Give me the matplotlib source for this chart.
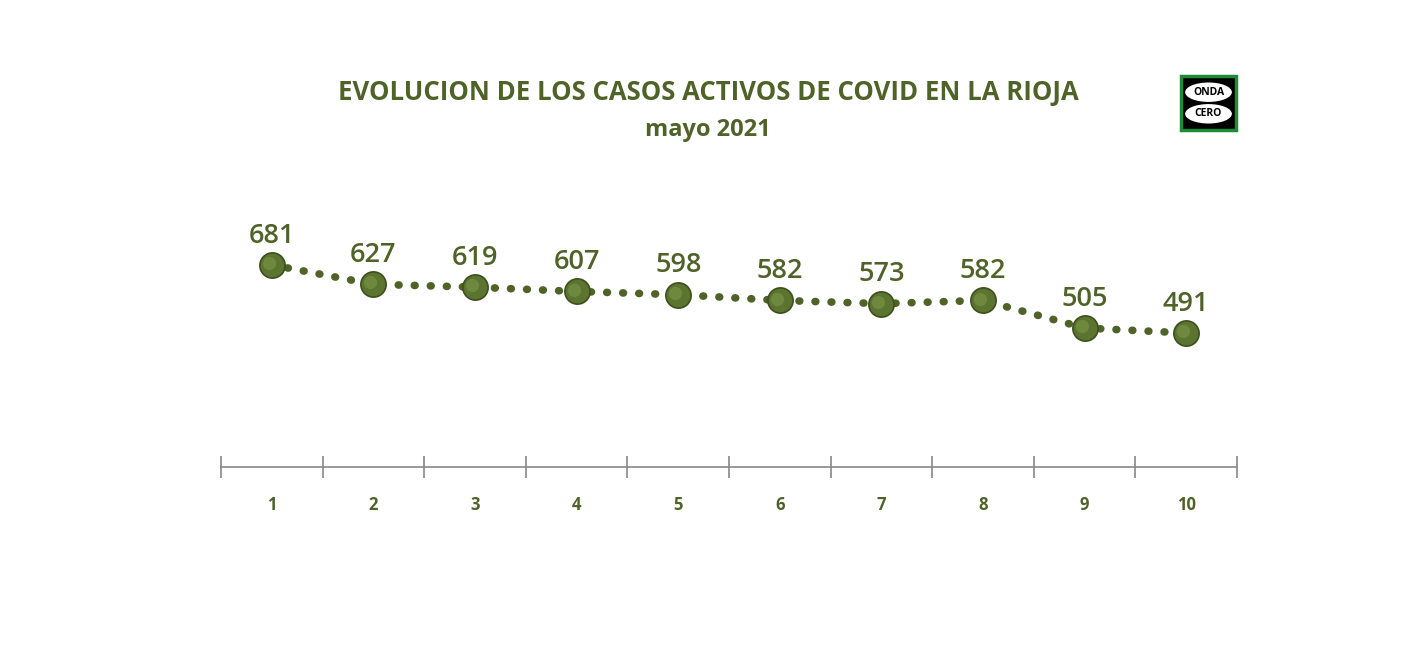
import matplotlib.pyplot as plt
from matplotlib.patches import Rectangle, Ellipse

days = [1, 2, 3, 4, 5, 6, 7, 8, 9, 10]
active_cases = [681, 627, 619, 607, 598, 582, 573, 582, 505, 491]
title = "EVOLUCION DE LOS CASOS ACTIVOS DE COVID EN LA RIOJA"
subtitle = "mayo 2021"

green = "#4F6228"
font = ["Open Sans", "DejaVu Sans"]

fig = plt.figure(figsize=(14.16, 6.72), dpi=100)
ax = fig.add_axes([221 / 1416, 1 - 467 / 672, 1016 / 1416, 297 / 672])

ax.plot(days, active_cases, linestyle=(0, (0.1, 2.0)), dash_capstyle="round",
        lw=5.5, color=green, zorder=2)
ax.scatter(days, active_cases, s=330, color="#5B7530", edgecolors="#3E4F1E",
           linewidths=1.2, zorder=3)
ax.scatter([d - 0.03 for d in days], [v + 5 for v in active_cases], s=90,
           color="#7C9646", alpha=0.6, lw=0, zorder=4)

for d, v in zip(days, active_cases):
    ax.annotate(str(v), (d, v), xytext=(0, 16), textcoords="offset points",
                ha="center", va="baseline", fontsize=19.5, color=green,
                fontweight="semibold", family=font)

ax.set_xlim(0.5, 10.5)
ax.set_ylim(117, 946)
ax.set_yticks([])
for s in ["top", "right", "left"]:
    ax.spines[s].set_visible(False)
ax.spines["bottom"].set_color("#888888")
ax.spines["bottom"].set_linewidth(1.2)

ax.set_xticks([x + 0.5 for x in range(0, 11)], minor=False)
ax.set_xticklabels([])
ax.tick_params(axis="x", which="major", direction="inout", length=16,
               width=1.2, color="#888888")
ax.set_xticks(days, minor=True)
ax.set_xticklabels([str(d) for d in days], minor=True, fontsize=12,
                   color=green, fontweight="bold", family=font)
ax.tick_params(axis="x", which="minor", length=0, pad=21)

fig.text(708 / 1416, 1 - 93 / 672, title, ha="center", va="center",
         fontsize=18.5, fontweight="bold", color=green, family=font)
fig.text(708 / 1416, 1 - 130 / 672, subtitle, ha="center", va="center",
         fontsize=17, fontweight="bold", color=green, family=font)

# logo
lx, ly, lw_, lh = 1181 / 1416, 1 - 130 / 672, 55 / 1416, 54 / 672
fig.patches.append(Rectangle((lx, ly), lw_, lh, transform=fig.transFigure,
                             facecolor="black", edgecolor="#1E8A3A", lw=2.5))
for cy, word in [(ly + lh * 0.7, "ONDA"), (ly + lh * 0.3, "CERO")]:
    fig.patches.append(Ellipse((lx + lw_ / 2, cy), lw_ * 0.85, lh * 0.36,
                               transform=fig.transFigure, facecolor="white",
                               edgecolor="none"))
    fig.text(lx + lw_ / 2, cy, word, ha="center", va="center", fontsize=7.5,
             fontweight="bold", color="black", family=font)

fig.savefig("out.png", dpi=100, facecolor="white")
